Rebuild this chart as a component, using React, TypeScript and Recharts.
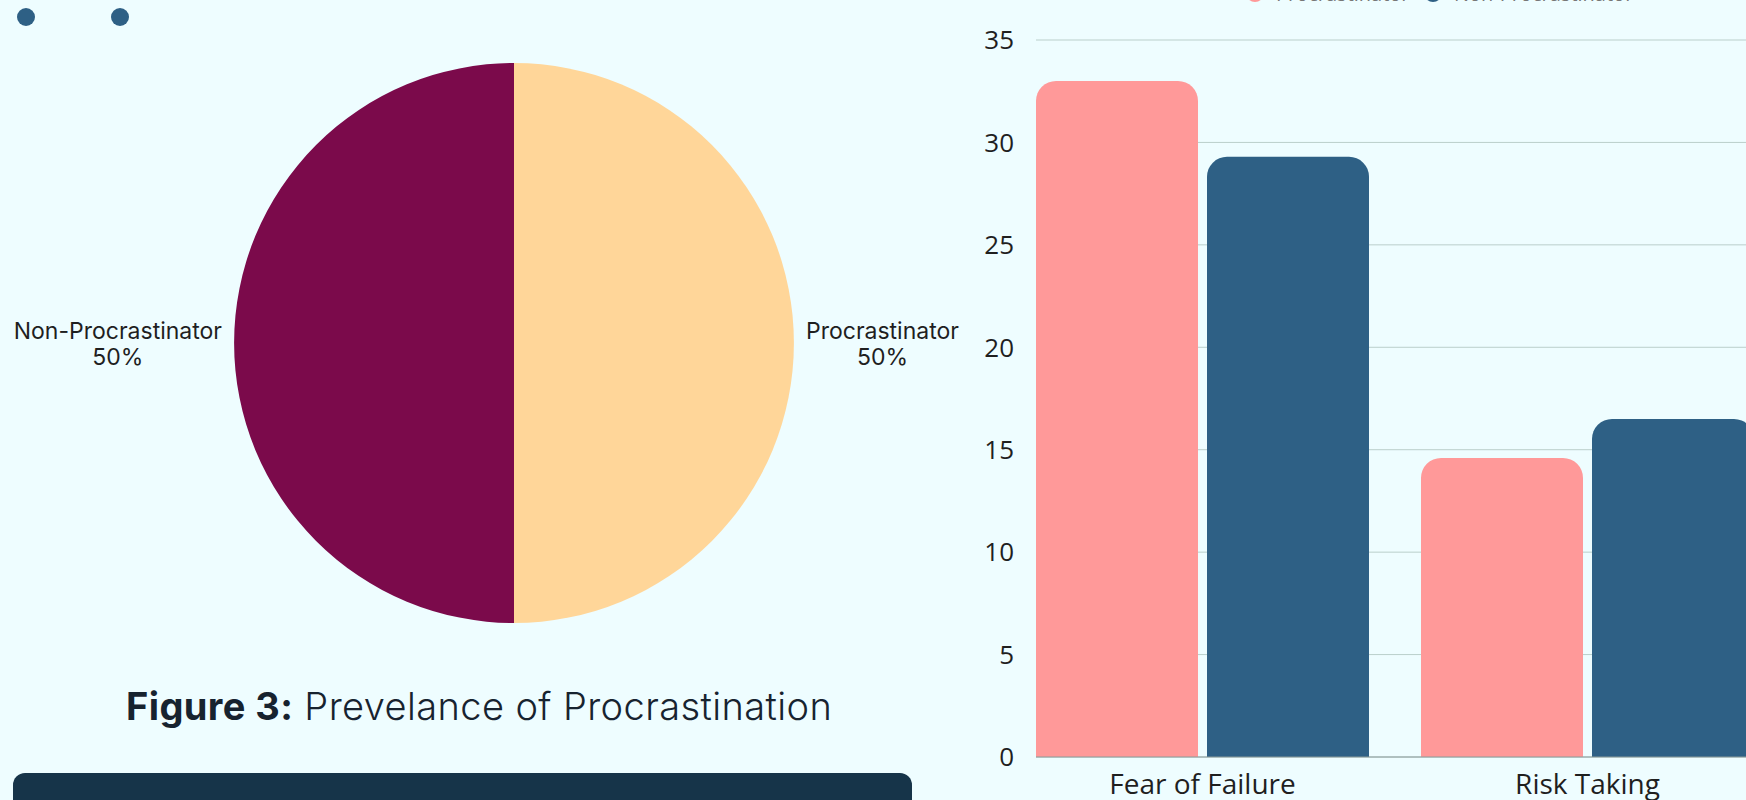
import React from "react"
import {
  PieChart,
  Pie,
  Cell,
  BarChart,
  Bar,
  XAxis,
  YAxis,
  CartesianGrid,
  Legend,
} from "recharts"

// pie: prevalence of procrastination
const pieNames = ["Procrastinator", "Non-Procrastinator"]
const pieValues = [50, 50]
const pieColors = ["#FFD699", "#7B0A4B"]

// bars: scores by trait
const traits = ["Fear of Failure", "Risk Taking"]
const groupA = [33, 14.6]
const groupB = [29.3, 16.5]
const seriesNames = ["Procrastinator", "Non-Procrastinator"]
const yTicks = [0, 5, 10, 15, 20, 25, 30, 35]

const pieData = pieNames.map((name, i) => ({ name, value: pieValues[i] }))
const barData = traits.map((trait, i) => ({ trait, a: groupA[i], b: groupB[i] }))

const LABEL_FONT = "23px Inter"
const RAD = Math.PI / 180

let ctx: CanvasRenderingContext2D | null = null
const measure = (text: string) => {
  if (!ctx) ctx = document.createElement("canvas").getContext("2d")
  if (!ctx) return text.length * 12
  ctx.font = LABEL_FONT
  return ctx.measureText(text).width
}

const PieLabel = (props: any) => {
  const { cx, cy, midAngle, outerRadius, name, percent } = props
  const cos = Math.cos(-midAngle * RAD)
  const r = outerRadius + 12
  const edge = cx + r * cos
  const w = measure(name)
  // both lines centred on the block, block hugs the pie edge
  const mid = cos >= 0 ? edge + w / 2 : edge - w / 2
  return (
    <text x={mid} y={cy} textAnchor="middle" fill="#1f1f1f" style={{ font: LABEL_FONT }}>
      <tspan x={mid} dy={-4}>{name}</tspan>
      <tspan x={mid} dy={26}>{`${Math.round(percent * 100)}%`}</tspan>
    </text>
  )
}

const order = ["a", "b"]
const BarLegend = ({ payload }: any) => {
  const items = [...(payload || [])].sort(
    (p: any, q: any) => order.indexOf(p.dataKey) - order.indexOf(q.dataKey)
  )
  return (
    <div style={{ height: 100, display: "flex", paddingLeft: 306, paddingTop: 44, boxSizing: "border-box" }}>
      {items.map((p: any) => (
        <div key={p.value} style={{ display: "flex", alignItems: "center", gap: 12, height: 18, width: 178 }}>
          <span style={{ width: 18, height: 18, borderRadius: 9, background: p.color, flex: "none" }} />
          <span style={{ font: "20px 'Open Sans'", color: "#777", whiteSpace: "nowrap" }}>{p.value}</span>
        </div>
      ))}
    </div>
  )
}

export default function App() {
  return (
    <div
      style={{
        position: "fixed",
        left: 0,
        top: 0,
        width: 1746,
        height: 800,
        overflow: "hidden",
        background: "#EEFDFF",
      }}
    >
      {/* legend dots left over from the block above */}
      <div style={{ position: "absolute", left: 17, top: 8, display: "flex", gap: 76 }}>
        <span style={{ width: 18, height: 18, borderRadius: 9, background: "#2E6085" }} />
        <span style={{ width: 18, height: 18, borderRadius: 9, background: "#2E6085" }} />
      </div>

      <div style={{ position: "absolute", left: 0, top: 0 }}>
        <PieChart width={1000} height={700}>
          <Pie
            data={pieData}
            dataKey="value"
            nameKey="name"
            cx={509}
            cy={338}
            outerRadius={280}
            startAngle={90}
            endAngle={-270}
            stroke="none"
            label={PieLabel}
            labelLine={false}
            isAnimationActive={false}
          >
            {pieData.map((d, i) => (
              <Cell key={d.name} fill={pieColors[i]} />
            ))}
          </Pie>
        </PieChart>
      </div>

      <div
        style={{
          position: "absolute",
          left: 126,
          top: 683,
          fontFamily: "Inter",
          fontSize: 38,
          letterSpacing: 0.4,
          color: "#17232F",
          whiteSpace: "nowrap",
        }}
      >
        <span style={{ fontWeight: 700 }}>Figure 3:</span>
        <span style={{ fontWeight: 300 }}> Prevelance of Procrastination</span>
      </div>

      <div
        style={{
          position: "absolute",
          left: 13,
          top: 773,
          width: 899,
          height: 60,
          background: "#163449",
          borderRadius: 12,
        }}
      />

      <div style={{ position: "absolute", left: 940, top: -70 }}>
        <BarChart
          width={840}
          height={880}
          data={barData}
          margin={{ top: 10, right: 0, left: 0, bottom: 23 }}
          barGap={9}
          barCategoryGap={26}
        >
          <Legend verticalAlign="top" content={<BarLegend />} />
          <CartesianGrid vertical={false} stroke="#BACFCB" />
          <XAxis
            dataKey="trait"
            padding={{ left: -26, right: 0 }}
            axisLine={{ stroke: "#8A9A9A" }}
            tickLine={false}
            tickMargin={11}
            tick={{ fill: "#1f1f1f", fontSize: 28, fontFamily: "Open Sans" }}
          />
          <YAxis
            width={96}
            domain={[0, 35]}
            ticks={yTicks}
            axisLine={false}
            tickLine={false}
            tickMargin={16}
            tick={{ fill: "#1f1f1f", fontSize: 26, fontFamily: "Open Sans" }}
          />
          <Bar dataKey="a" name={seriesNames[0]} fill="#FF9999" radius={[20, 20, 0, 0]} isAnimationActive={false} />
          <Bar dataKey="b" name={seriesNames[1]} fill="#2E6085" radius={[20, 20, 0, 0]} isAnimationActive={false} />
        </BarChart>
      </div>
    </div>
  )
}
